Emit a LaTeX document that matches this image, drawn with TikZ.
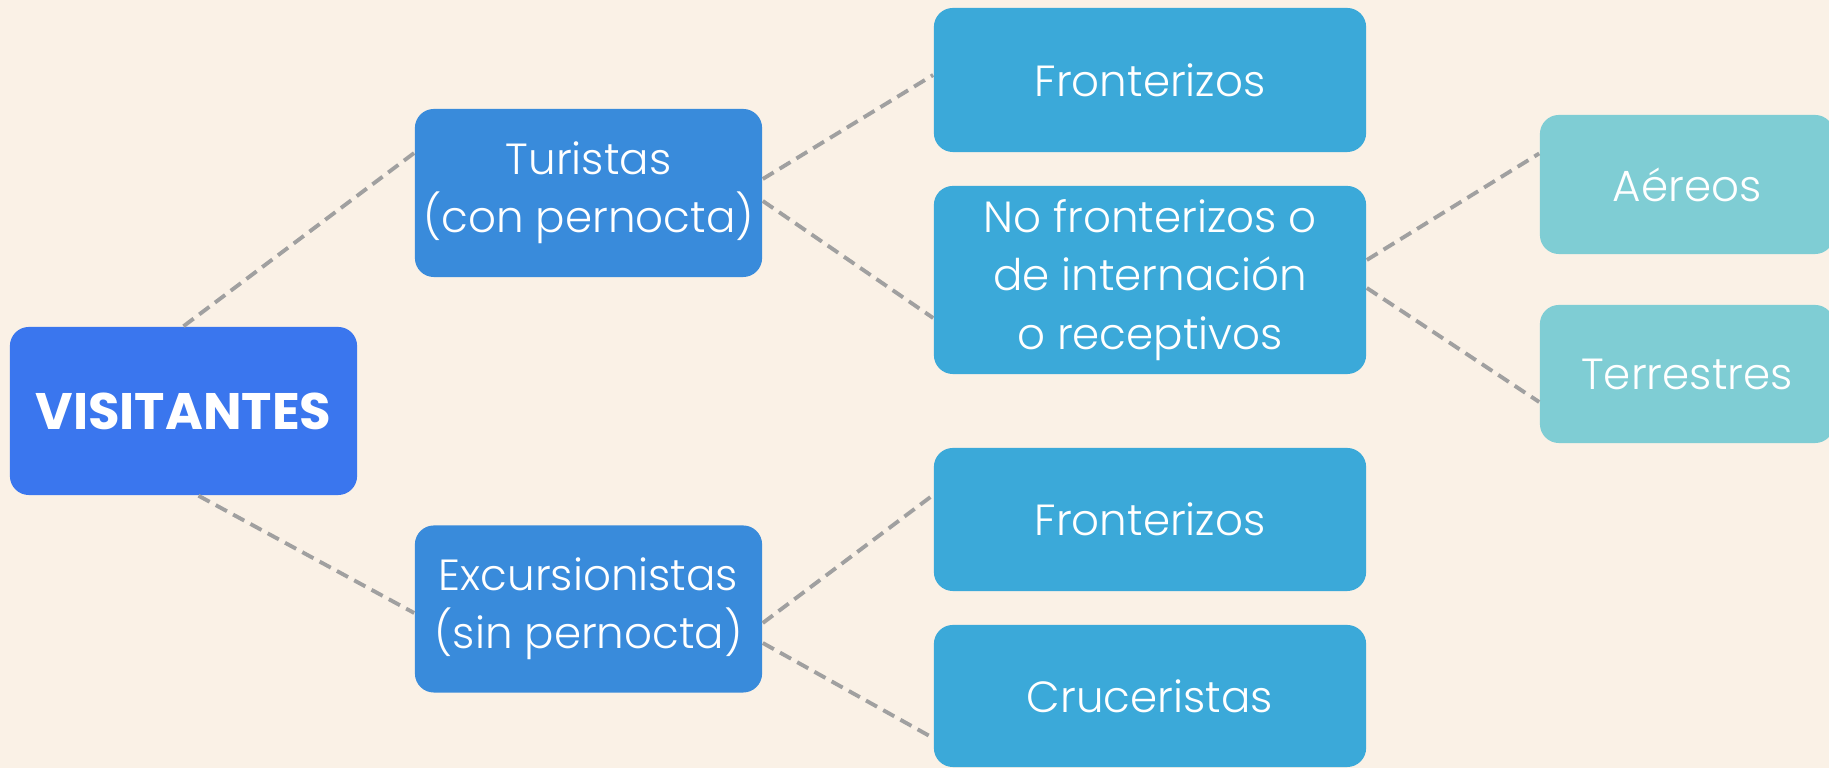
\documentclass[tikz,border=0pt]{standalone}
\usepackage{fontspec}
\setmainfont{Poppins}[UprightFont=* Light, BoldFont=* Bold]
\usetikzlibrary{calc}
\definecolor{fondo}{HTML}{FAF1E6}
\definecolor{azulraiz}{HTML}{3A76EE}
\definecolor{azulmedio}{HTML}{398BDB}
\definecolor{celeste}{HTML}{3BA9D9}
\definecolor{turquesa}{HTML}{7FCDD4}
\definecolor{gris}{HTML}{A0A0A0}
\tikzset{
  caja/.style={rounded corners=0.19cm, text=white, align=center, inner sep=0pt,
    font=\fontsize{12.4}{16.6}\selectfont},
  raiz/.style={caja, fill=azulraiz, minimum width=3.47cm, minimum height=1.68cm,
    font=\fontsize{14.6}{18}\selectfont\bfseries},
  rama/.style={caja, fill=azulmedio, minimum width=3.47cm, minimum height=1.68cm},
  hoja/.style={caja, fill=celeste, minimum width=4.32cm, minimum height=1.43cm},
  sub/.style={caja, fill=turquesa, minimum width=2.94cm, minimum height=1.39cm},
  enlace/.style={draw=gris, line width=1.1pt, dash pattern=on 3.6pt off 2pt}
}

\begin{document}
\begin{tikzpicture}[x=0.01cm, y=-0.01cm]
			%%%%% START %%%%%
			
			\fill[fondo] (0, 0) rectangle (1829, 768);
			\useasboundingbox (0, 0) rectangle (1829, 768);
			
			\node[raiz] (vis) at (183.5, 411) {VISITANTES};
			
			\node[rama] (tur) at (588.5, 193) {Turistas\\(con pernocta)};
			\node[rama, minimum height=1.67cm] (exc) at (588.5, 609) {Excursionistas\\(sin pernocta)};
			
			\node[hoja, minimum height=1.44cm] (fro1) at (1150, 80) {Fronterizos};
			\node[hoja, minimum height=1.88cm] (nof) at (1150, 280) {No fronterizos o\\de internación\\o receptivos};
			\node[hoja] (fro2) at (1150, 519.5) {Fronterizos};
			\node[hoja, minimum height=1.42cm] (cru) at (1150, 696) {Cruceristas};
			
			\node[sub] (aer) at (1687, 184.5) {Aéreos};
			\node[sub, minimum height=1.38cm] (ter) at (1687, 374) {Terrestres};
			
			% enlaces
			\draw[enlace] (vis.north) -- ([yshift=0.40cm]tur.west);
			\draw[enlace] ([xshift=0.15cm]vis.south) -- ([yshift=-0.04cm]exc.west);
			
			\draw[enlace] ([yshift=0.14cm]tur.east) -- ([yshift=0.05cm]fro1.west);
			\draw[enlace] ([yshift=-0.08cm]tur.east) -- ([yshift=-0.38cm]nof.west);
			
			\draw[enlace] ([yshift=-0.14cm]exc.east) -- ([yshift=0.245cm]fro2.west);
			\draw[enlace] ([yshift=-0.34cm]exc.east) -- ([yshift=-0.42cm]cru.west);
			
			\draw[enlace] ([yshift=0.20cm]nof.east) -- ([yshift=0.31cm]aer.west);
			\draw[enlace] ([yshift=-0.08cm]nof.east) -- ([yshift=-0.28cm]ter.west);
			
			%%%%% END %%%%%
		\end{tikzpicture}
\end{document}
